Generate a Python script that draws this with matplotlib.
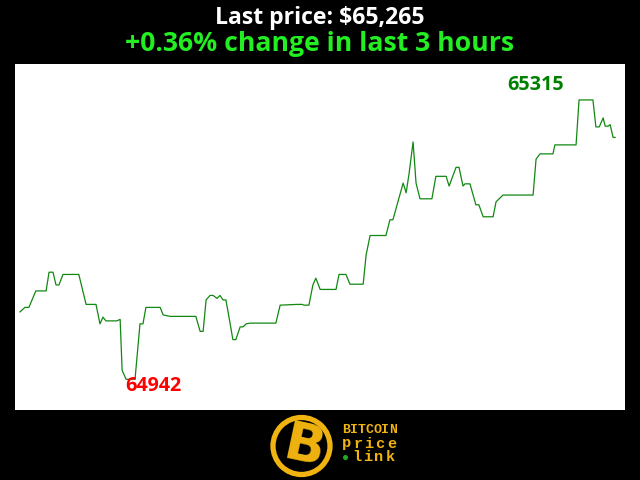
import matplotlib
matplotlib.use("Agg")
import matplotlib.pyplot as plt
import matplotlib.patches as mpatches

# ── Data: minutes over last 3 hours, BTC price (USD) ──
minutes = [0, 1.5, 2.7, 4.8, 7.9, 8.8, 10, 10.9, 11.8, 13, 17.8, 20, 23, 24.2,
           25.1, 26, 29.3, 30.3, 30.9, 32.1, 34.8, 36.3, 37.2, 38.1, 42.4, 43.3,
           45.4, 53.2, 54.5, 55.4, 56.3, 57.5, 58.4, 59.6, 60.5, 61.4, 62.3,
           63.5, 64.4, 65.3, 66.6, 67.5, 68.4, 69.6, 77.4, 78.7, 83.8, 85.3,
           85.9, 87.4, 88.6, 89.5, 90.8, 95.6, 96.5, 98.6, 99.8, 103.8, 104.7,
           105.9, 110.7, 111.9, 112.8, 115.9, 116.8, 117.7, 118.9, 119.8, 121,
           124.6, 125.8, 128.9, 129.8, 131.9, 132.8, 134, 134.6, 136.1, 137.9,
           138.8, 140.1, 143.1, 144, 146.1, 155.2, 156.1, 157.3, 161.2, 161.8,
           168.2, 169.1, 173.3, 174.2, 175.2, 176.4, 177, 177.9, 178.5, 179.4, 180]
prices = [65032, 65038, 65038, 65060, 65060, 65085, 65085, 65068, 65068, 65082,
          65082, 65042, 65042, 65016, 65025, 65020, 65020, 65022, 64954, 64942,
          64942, 65016, 65016, 65038, 65038, 65028, 65026, 65026, 65006, 65006,
          65048, 65054, 65054, 65050, 65054, 65048, 65048, 65018, 64995, 64995,
          65012, 65012, 65016, 65017, 65017, 65041, 65042, 65042, 65041, 65041,
          65068, 65077, 65062, 65062, 65082, 65082, 65069, 65069, 65108, 65134,
          65134, 65155, 65155, 65204, 65191, 65217, 65259, 65204, 65183, 65183,
          65213, 65213, 65200, 65225, 65225, 65200, 65203, 65203, 65175, 65175,
          65159, 65159, 65179, 65188, 65188, 65236, 65243, 65243, 65255, 65255,
          65315, 65315, 65279, 65279, 65291, 65280, 65280, 65282, 65265, 65265]

last_price = prices[-1]
pct_change = 0.36
hours = 3

LINE_C = '#118811'
GOLD = '#f0b310'

fig = plt.figure(figsize=(6.4, 4.8), dpi=100, facecolor='black')
ax = fig.add_axes([15 / 640, 70 / 480, 610 / 640, 346 / 480])
ax.set_facecolor('white')
ax.plot(minutes, prices, color=LINE_C, lw=0.9)
ax.set_xlim(-1.5, 183)
ax.set_ylim(64901, 65363)
ax.set_xticks([])
ax.set_yticks([])
for sp in ax.spines.values():
    sp.set_visible(False)

# min / max labels
i_min = prices.index(min(prices))
i_max = prices.index(max(prices))
ax.annotate(f'{prices[i_min]}', xy=(minutes[i_min], prices[i_min]),
            xytext=(-0.5, -4.5), textcoords='offset points',
            ha='left', va='center', fontsize=14.2, fontweight='bold',
            color='#ff0000', family='Open Sans')
ax.annotate(f'{prices[i_max]}', xy=(minutes[i_max], prices[i_max]),
            xytext=(-11, 10.5), textcoords='offset points',
            ha='right', va='center', fontsize=14.2, fontweight='bold',
            color='#008000', family='Open Sans')

# ── Titles ──
fig.text(0.5, 1 - 18 / 480, f'Last price: ${last_price:,}', ha='center',
         va='center', color='white', fontsize=16.6, fontweight='bold',
         family='Open Sans')
fig.text(0.5, 1 - 44 / 480, f'+{pct_change:.2f}% change in last {hours} hours',
         ha='center', va='center', color='#22ee22', fontsize=19.2,
         fontweight='bold', family='Open Sans')

# ── Logo ──
lax = fig.add_axes([0, 0, 1, 1], facecolor='none')
lax.set_xlim(0, 640)
lax.set_ylim(480, 0)
lax.axis('off')
lax.add_patch(mpatches.Circle((301.5, 446), 28.5, facecolor='black',
                              edgecolor=GOLD, lw=3.8))
lax.text(304, 447, 'B', ha='center', va='center', fontsize=38,
         fontweight='bold', color=GOLD, rotation=-12, family='DejaVu Sans')

# spread the letters like the wide pixel font of the original logo
for word, x0, y0, step, fs in [('BITCOIN', 342, 430, 7.9, 9.5),
                               ('price', 342, 443.5, 11.2, 11),
                               ('link', 352, 457, 11.2, 11)]:
    for k, ch in enumerate(word):
        lax.text(x0 + k * step, y0, ch, ha='left', va='center', fontsize=fs,
                 fontweight='bold', color=GOLD, family='Liberation Mono')
lax.add_patch(mpatches.Circle((345.5, 457.5), 1.8, color='#22aa22'))

fig.savefig('out.png', dpi=100, facecolor='black')
